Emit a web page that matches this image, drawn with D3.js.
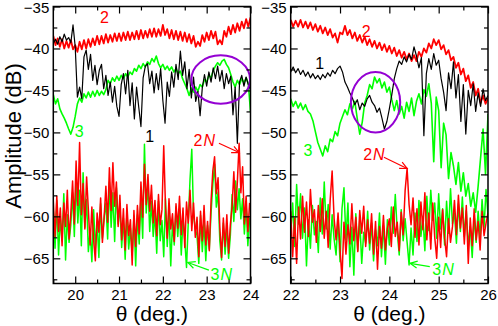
<!DOCTYPE html>
<html>
<head>
<meta charset="utf-8">
<script src="https://cdn.jsdelivr.net/npm/d3@7"></script>
<style>
  body { margin: 0; background: #fff; }
  text { font-family: "Liberation Sans", Arial, sans-serif; }
</style>
</head>
<body>
<svg id="chart" width="498" height="326"></svg>
<script>
// sampling of the traces (deg.)
var sigStep = 0.05, noiseStep = 0.04;

// ---- left panel, theta 19.5 .. 24 ----
var left2 = [
  -38.5,-39.6,-38.8,-39.8,-38.9,-40.0,-39.1,-39.9,-39.0,-40.1,
  -39.6,-40.4,-39.2,-40.1,-39.0,-40.0,-38.9,-39.8,-38.8,-39.6,
  -38.5,-39.5,-38.5,-39.4,-38.3,-39.3,-38.4,-39.2,-38.2,-39.1,
  -38.2,-39.1,-38.1,-39.0,-38.0,-39.0,-38.1,-38.9,-37.9,-38.9,
  -37.8,-38.8,-37.9,-38.7,-37.7,-38.6,-37.6,-38.6,-37.7,-38.5,
  -37.2,-38.4,-37.7,-38.8,-37.8,-38.9,-37.9,-39.0,-38.0,-39.1,
  -38.1,-39.2,-38.3,-39.4,-38.5,-39.8,-39.2,-39.7,-38.4,-39.2,
  -38.1,-39.0,-37.9,-38.8,-38.0,-39.5,-39.0,-39.5,-37.9,-38.6,
  -37.4,-38.3,-37.2,-38.1,-37.0,-37.9,-36.8,-37.6,-36.5,-37.4,
  -36.3
];
var left1 = [
  -39.4,-38.9,-39.5,-38.6,-39.2,-38.3,-39.0,-38.7,-39.3,-37.2,
  -39.8,-45.8,-44.6,-46.0,-41.0,-40.2,-42.5,-40.7,-43.8,-42.0,
  -44.3,-42.6,-41.9,-44.8,-43.2,-45.6,-44.0,-46.4,-44.5,-46.9,
  -48.1,-44.3,-43.0,-45.4,-42.6,-46.8,-44.1,-48.4,-44.6,-47.0,
  -49.3,-43.5,-42.1,-41.8,-44.2,-42.7,-45.3,-43.0,-44.9,-42.4,
  -46.2,-48.9,-44.0,-45.7,-42.8,-44.6,-41.9,-43.7,-40.3,-43.2,
  -41.6,-44.8,-42.5,-45.9,-43.4,-46.3,-45.1,-48.0,-44.7,-43.1,
  -44.5,-42.8,-44.0,-42.3,-43.6,-42.1,-43.9,-42.6,-44.8,-43.0,
  -44.2,-43.3,-47.9,-44.6,-51.3,-44.0,-43.2,-44.5,-43.4,-44.3,
  -44.9
];
var left3 = [
  -45.5,-46.6,-46.0,-47.2,-47.8,-48.3,-48.9,-49.6,-50.2,-49.4,
  -48.1,-46.6,-45.9,-46.4,-45.4,-45.9,-45.2,-45.8,-45.1,-45.7,
  -45.0,-45.6,-45.1,-45.5,-44.9,-43.8,-44.2,-43.5,-43.9,-43.3,
  -43.8,-43.2,-43.6,-43.0,-43.4,-42.8,-43.1,-42.4,-42.7,-42.0,
  -42.4,-41.8,-42.2,-41.6,-41.9,-41.2,-41.6,-40.9,-41.8,-42.3,
  -41.9,-42.5,-42.1,-42.6,-42.2,-42.8,-42.4,-43.0,-42.7,-43.6,
  -44.2,-44.8,-45.6,-44.7,-45.2,-44.6,-45.1,-44.3,-44.6,-43.7,
  -44.0,-43.2,-43.5,-42.6,-42.1,-41.7,-42.0,-41.5,-41.3,-41.9,
  -42.3,-43.1,-44.0,-44.6,-43.8,-44.3,-43.6,-44.1,-43.5,-44.2,
  -47.5
];
var left2N = [
  -58.2,-62.4,-57.6,-61.8,-59.0,-63.5,-58.4,-61.2,-56.9,-62.7,-59.6,
  -55.8,-60.9,-53.4,-58.7,-51.2,-59.8,-56.1,-61.5,-55.3,-59.2,
  -63.4,-58.9,-62.8,-65.3,-59.6,-61.9,-57.8,-63.1,-60.2,
  -56.4,-60.7,-54.2,-59.3,-53.6,-58.8,-55.9,-61.2,-57.5,
  -62.8,-59.1,-64.0,-58.6,-62.3,-60.4,-65.8,-59.3,-63.6,-58.7,-62.1,
  -55.9,-60.1,-53.8,-58.6,-55.0,-59.4,-56.3,-60.8,
  -58.1,-62.3,-57.4,-61.0,-59.2,-51.6,-58.8,-62.6,-57.9,-61.5,-59.7,-63.0,-58.5,
  -61.4,-57.6,-62.2,-59.0,-63.7,-58.3,-60.8,-56.9,-61.7,-58.4,-62.5,
  -60.1,-64.8,-59.4,-62.9,-58.7,-63.4,-60.6,-64.1,
  -58.2,-54.6,-52.9,-57.3,-55.4,
  -61.3,-64.9,-60.2,-63.6,-59.8,-64.4,-61.0,
  -58.8,-54.7,-59.5,-55.9,-51.3,-57.2,-54.1,
  -60.9,-57.6,-61.8,-58.4
];
var left3N = [
  -59.4,-63.8,-58.1,-64.6,-60.2,-62.9,-57.3,-65.2,-59.8,-63.1,-61.0,
  -57.2,-62.4,-55.6,-60.8,-56.9,-63.5,-54.8,-61.3,-58.0,-64.2,
  -61.6,-65.4,-59.2,-63.8,-60.7,-64.9,-58.5,-62.6,-60.1,
  -58.4,-62.7,-55.9,-61.3,-57.2,-63.0,-56.6,-60.9,-58.8,
  -63.7,-60.2,-65.1,-59.5,-63.9,-61.4,-64.6,-60.0,-65.9,-59.8,-63.3,
  -57.7,-62.6,-51.4,-59.6,-56.1,-61.8,-58.2,-62.4,
  -59.6,-64.4,-58.2,-62.9,-60.5,-64.8,-57.9,-63.6,-59.1,-65.9,-60.8,-63.4,-58.9,
  -62.4,-59.1,-64.6,-60.3,-62.8,-66.1,-60.7,-55.6,-52.0,-59.9,-61.5,
  -62.3,-65.6,-59.9,-64.2,-60.6,-65.3,-61.1,-63.9,
  -59.6,-56.2,-53.8,-58.9,-57.1,
  -62.9,-65.2,-60.8,-64.5,-61.2,-65.0,-62.3,
  -57.4,-60.6,-55.8,-59.2,-56.7,-60.3,-57.9,
  -62.1,-58.6,-63.5,-60.2
];

// ---- right panel, theta 22 .. 26 ----
var right2 = [
  -36.6,-37.4,-36.7,-37.4,-36.6,-37.5,-36.8,-37.6,-36.9,-37.8,
  -37.1,-38.0,-37.3,-38.2,-37.5,-38.4,-37.7,-38.7,-38.2,-39.3,
  -38.1,-38.3,-37.3,-38.4,-37.8,-38.8,-38.1,-39.1,-38.4,-39.3,
  -38.6,-39.6,-38.9,-39.8,-39.1,-40.0,-39.3,-40.2,-39.5,-40.4,
  -39.7,-40.6,-39.9,-40.9,-40.2,-41.1,-40.4,-41.3,-40.6,-41.5,
  -40.8,-41.5,-40.4,-41.0,-40.0,-40.5,-39.4,-40.0,-38.9,-39.6,
  -39.0,-40.1,-39.6,-40.7,-40.2,-41.4,-41.0,-42.3,-41.7,-43.1,
  -42.4,-43.9,-43.2,-44.7,-44.0,-45.6,-44.8,-46.5,-45.6,-46.6,
  -45.9
];
var right1 = [
  -42.8,-42.2,-42.9,-42.4,-43.1,-42.6,-43.3,-42.8,-43.5,-43.0,
  -43.6,-43.2,-43.7,-43.1,-43.5,-42.9,-43.3,-42.6,-43.0,-42.4,
  -42.1,-42.8,-44.0,-44.6,-45.3,-45.9,-46.7,-46.1,-47.3,-46.5,
  -46.9,-46.0,-45.6,-46.4,-46.8,-47.6,-47.1,-48.3,-49.6,-48.7,
  -47.2,-45.5,-43.6,-42.4,-41.5,-41.9,-41.0,-41.6,-40.7,-41.3,
  -39.8,-40.9,-42.3,-41.1,-50.4,-43.0,-41.2,-42.5,-40.6,-42.0,
  -41.4,-43.6,-45.2,-47.4,-42.9,-44.8,-41.6,-45.9,-43.1,-48.7,
  -44.3,-50.2,-45.0,-46.8,-44.2,-47.5,-45.3,-46.9,-44.8,-46.2,
  -45.6
];
var right3 = [
  -46.0,-46.9,-46.3,-47.1,-46.5,-47.3,-46.7,-47.5,-47.8,-48.6,
  -49.9,-51.2,-52.0,-52.8,-51.6,-52.3,-50.8,-51.1,-49.9,-50.4,
  -48.9,-48.1,-47.3,-47.9,-46.6,-47.2,-46.3,-48.4,-50.2,-48.8,
  -46.5,-45.6,-44.3,-44.8,-43.4,-44.1,-43.6,-44.7,-44.0,-45.2,
  -44.6,-46.1,-47.4,-46.2,-47.8,-46.9,-48.3,-46.4,-47.5,-45.9,
  -48.0,-46.3,-45.4,-46.6,-44.9,-45.7,-44.2,-46.5,-53.5,-45.8,
  -47.4,-54.2,-48.9,-50.3,-55.5,-52.4,-54.0,-56.2,-53.6,-57.0,
  -54.8,-57.6,-56.1,-58.8,-57.2,-59.5,-56.4,-53.0,-49.6,-55.0,
  -47.8
];
var right2N = [
  -59.4,-64.8,-60.2,-65.6,-58.9,-62.7,
  -57.6,-61.9,-58.3,-62.4,-56.8,-60.7,-59.2,
  -63.1,-58.7,-61.8,-57.9,-62.6,-59.4,-63.7,-58.1,-54.6,-60.3,
  -62.8,-59.6,-63.9,-67.4,-60.7,-64.5,-61.0,-63.3,
  -58.5,-62.9,-60.1,-64.2,-59.3,-62.0,-58.8,-63.6,-60.4,
  -63.2,-59.7,-64.5,-60.6,-66.3,-61.2,-63.8,-59.9,-64.0,-61.5,
  -60.3,-63.6,-58.9,-62.4,-60.7,-64.1,-59.5,-62.2,
  -56.9,-54.3,-58.6,
  -61.0,-57.8,-62.5,-59.1,-63.4,-58.3,-61.6,-57.2,-62.8,-59.6,-63.9,-58.4,
  -62.5,-65.0,-60.1,-63.7,-59.2,-62.6,-64.8,-60.3,-63.1,-61.2,
  -58.1,-62.2,-57.5,-61.4,-59.0,-63.3,-58.7,-65.6,
  -60.2,-63.5,-59.1,-62.8,-60.6,-64.0,-59.4,-62.3,-60.8,-59.6
];
var right3N = [
  -62.1,-58.4,-63.6,-56.2,-60.9,-57.3,
  -62.6,-59.0,-65.9,-60.4,-63.8,-58.7,-62.2,
  -60.6,-64.3,-57.8,-62.1,-55.9,-61.5,-58.6,-63.9,-59.8,-62.7,
  -64.6,-60.2,-65.4,-59.1,-56.6,-62.8,-58.4,-66.0,
  -61.3,-67.0,-59.7,-64.1,-60.5,-65.6,-61.9,-63.2,-59.4,
  -64.0,-60.8,-65.3,-61.6,-63.5,-59.6,-64.8,-61.1,-65.7,-60.4,
  -63.4,-58.9,-62.0,-57.4,-61.8,-64.6,-59.2,-62.9,
  -60.3,-63.1,-65.8,
  -61.4,-64.6,-59.6,-63.0,-58.1,-62.4,-60.0,-64.1,-57.6,-61.7,-56.9,-60.5,
  -58.4,-62.6,-57.3,-61.5,-59.1,-63.4,-58.2,-62.0,-56.7,-60.9,
  -59.6,-63.2,-58.5,-61.8,-57.7,-62.4,-59.3,-63.6,
  -61.2,-64.9,-60.0,-63.1,-59.4,-62.6,-58.0,-61.3,-56.8,-59.9
];

// axis ticks
var yMajor = [-35, -40, -45, -50, -55, -60, -65];
var yMinor = [-37.5, -42.5, -47.5, -52.5, -57.5, -62.5, -67.5];
var leftMajor = [20, 21, 22, 23, 24], leftMinor = [19.5, 20.5, 21.5, 22.5, 23.5];
var rightMajor = [22, 23, 24, 25, 26], rightMinor = [22.5, 23.5, 24.5, 25.5];

// annotations, in (theta, dB)
var leftLabels = [
  {text: "2", t: 20.67, v: -37.0, c: "#ff0000"},
  {text: "1", t: 21.70, v: -51.2, c: "#000000"},
  {text: "3", t: 20.09, v: -50.6, c: "#00ff00"}
];
var rightLabels = [
  {text: "2", t: 23.53, v: -38.6, c: "#ff0000"},
  {text: "1", t: 22.59, v: -42.5, c: "#000000"},
  {text: "3", t: 22.35, v: -52.8, c: "#00ff00"}
];
var leftArrows = [
  {n: "2", t: 22.70, v: -51.6, t0: 23.28, v0: -51.3, t1: 23.74, v1: -52.4, c: "#ff0000"},
  {n: "3", t: 23.09, v: -67.6, t0: 23.05, v0: -66.4, t1: 22.57, v1: -65.5, c: "#00ff00"}
];
var rightArrows = [
  {n: "2", t: 23.47, v: -53.3, t0: 23.89, v0: -52.95, t1: 24.36, v1: -54.3, c: "#ff0000"},
  {n: "3", t: 24.87, v: -67.0, t0: 24.82, v0: -66.0, t1: 24.42, v1: -65.6, c: "#00ff00"}
];
var leftEllipse = {t: 23.32, v: -43.7, rt: 0.67, rv: 2.88};
var rightEllipse = {t: 23.72, v: -46.4, rt: 0.50, rv: 3.6};

var svg = d3.select("#chart");
var y = d3.scaleLinear().domain([-68, -35]).range([283.5, 6.5]);
var fontTick = 15;

function series(t0, step, values) {
  return values.map(function(v, i) { return {t: t0 + i * step, v: v}; });
}

function drawPanel(p) {
  var x = d3.scaleLinear().domain(p.domain).range(p.range);
  var g = svg.append("g").attr("class", "panel " + p.id);

  var clipId = "clip-" + p.id;
  svg.append("defs").append("clipPath").attr("id", clipId)
    .append("rect")
      .attr("x", x.range()[0]).attr("y", y.range()[1])
      .attr("width", x.range()[1] - x.range()[0])
      .attr("height", y.range()[0] - y.range()[1]);

  var line = d3.line()
      .x(function(d) { return x(d.t); })
      .y(function(d) { return y(d.v); });

  var traces = [
    {d: series(p.domain[0], noiseStep, p.n3), c: "#00ff00", w: 1.5},
    {d: series(p.domain[0], noiseStep, p.n2), c: "#ff0000", w: 1.5},
    {d: series(p.domain[0], sigStep, p.s2), c: "#ff0000", w: 1.8},
    {d: series(p.domain[0], sigStep, p.s3), c: "#00ff00", w: 1.6},
    {d: series(p.domain[0], sigStep, p.s1), c: "#000000", w: 1.2}
  ];

  g.append("g").attr("clip-path", "url(#" + clipId + ")")
    .selectAll("path").data(traces).enter()
    .append("path")
      .attr("d", function(d) { return line(d.d); })
      .attr("fill", "none")
      .attr("stroke", function(d) { return d.c; })
      .attr("stroke-width", function(d) { return d.w; })
      .attr("stroke-linejoin", "round");

  // purple ellipse
  g.append("ellipse")
    .attr("cx", x(p.ellipse.t)).attr("cy", y(p.ellipse.v))
    .attr("rx", x(p.ellipse.t + p.ellipse.rt) - x(p.ellipse.t))
    .attr("ry", y(p.ellipse.v - p.ellipse.rv) - y(p.ellipse.v))
    .attr("fill", "none")
    .attr("stroke", "#9400d3")
    .attr("stroke-width", 2);

  // curve labels
  g.selectAll("text.lbl").data(p.labels).enter()
    .append("text")
      .attr("class", "lbl")
      .attr("x", function(d) { return x(d.t); })
      .attr("y", function(d) { return y(d.v); })
      .attr("text-anchor", "middle")
      .attr("font-size", 16)
      .attr("fill", function(d) { return d.c; })
      .text(function(d) { return d.text; });

  // noise labels with arrows
  p.arrows.forEach(function(a) {
    var txt = g.append("text")
      .attr("x", x(a.t)).attr("y", y(a.v))
      .attr("font-size", 16)
      .attr("fill", a.c);
    txt.append("tspan").text(a.n);
    txt.append("tspan").attr("font-style", "italic").attr("dx", 1).text("N");

    var x0 = x(a.t0), y0 = y(a.v0), x1 = x(a.t1), y1 = y(a.v1);
    var ang = Math.atan2(y1 - y0, x1 - x0), len = 8, spread = 0.45;
    var ah = g.append("g").attr("stroke", a.c).attr("stroke-width", 1.2).attr("fill", "none");
    ah.append("line").attr("x1", x0).attr("y1", y0).attr("x2", x1).attr("y2", y1);
    ah.append("path").attr("d",
      "M" + (x1 - len * Math.cos(ang - spread)) + "," + (y1 - len * Math.sin(ang - spread)) +
      "L" + x1 + "," + y1 +
      "L" + (x1 - len * Math.cos(ang + spread)) + "," + (y1 - len * Math.sin(ang + spread)));
  });

  // axes, ticks point inward
  var h = y.range()[0], top = y.range()[1], x0p = x.range()[0], x1p = x.range()[1];
  function styleAxis(sel) {
    sel.select(".domain").remove();
    sel.selectAll("line").attr("stroke-width", 1.2);
    sel.selectAll("text").attr("font-size", fontTick).attr("fill", "#000")
      .attr("font-family", "'Liberation Sans', Arial, sans-serif");
  }
  g.append("g").attr("transform", "translate(0," + h + ")")
    .call(d3.axisBottom(x).tickValues(p.major).tickFormat(d3.format("d")).tickSize(-7).tickPadding(6))
    .call(styleAxis);
  g.append("g").attr("transform", "translate(0," + h + ")")
    .call(d3.axisBottom(x).tickValues(p.minor).tickFormat("").tickSize(-4))
    .call(styleAxis);
  g.append("g").attr("transform", "translate(0," + top + ")")
    .call(d3.axisTop(x).tickValues(p.major).tickFormat("").tickSize(-7))
    .call(styleAxis);
  g.append("g").attr("transform", "translate(0," + top + ")")
    .call(d3.axisTop(x).tickValues(p.minor).tickFormat("").tickSize(-4))
    .call(styleAxis);
  var yl = g.append("g").attr("transform", "translate(" + x0p + ",0)")
    .call(d3.axisLeft(y).tickValues(yMajor).tickFormat(d3.format("d")).tickSize(-7).tickPadding(4))
    .call(styleAxis);
  // keep the top label inside the picture
  yl.selectAll(".tick text").filter(function(d) { return d === -35; }).attr("dy", "0.42em");
  g.append("g").attr("transform", "translate(" + x0p + ",0)")
    .call(d3.axisLeft(y).tickValues(yMinor).tickFormat("").tickSize(-4))
    .call(styleAxis);
  g.append("g").attr("transform", "translate(" + x1p + ",0)")
    .call(d3.axisRight(y).tickValues(yMajor).tickFormat("").tickSize(-7))
    .call(styleAxis);
  g.append("g").attr("transform", "translate(" + x1p + ",0)")
    .call(d3.axisRight(y).tickValues(yMinor).tickFormat("").tickSize(-4))
    .call(styleAxis);

  g.append("rect")
    .attr("x", x0p).attr("y", top)
    .attr("width", x1p - x0p).attr("height", h - top)
    .attr("fill", "none").attr("stroke", "#000").attr("stroke-width", 1.5);

  g.append("text")
    .attr("x", (x0p + x1p) / 2).attr("y", 321)
    .attr("text-anchor", "middle")
    .attr("font-size", 21)
    .text("\u03b8 (deg.)");
}

drawPanel({id: "left", domain: [19.5, 24], range: [53.3, 250.5],
  major: leftMajor, minor: leftMinor,
  s1: left1, s2: left2, s3: left3, n2: left2N, n3: left3N,
  labels: leftLabels, arrows: leftArrows, ellipse: leftEllipse});
drawPanel({id: "right", domain: [22, 26], range: [290.7, 488],
  major: rightMajor, minor: rightMinor,
  s1: right1, s2: right2, s3: right3, n2: right2N, n3: right3N,
  labels: rightLabels, arrows: rightArrows, ellipse: rightEllipse});

svg.append("text")
  .attr("transform", "translate(21,136) rotate(-90)")
  .attr("text-anchor", "middle")
  .attr("font-size", 22)
  .text("Amplitude (dB)");
</script>
</body>
</html>
